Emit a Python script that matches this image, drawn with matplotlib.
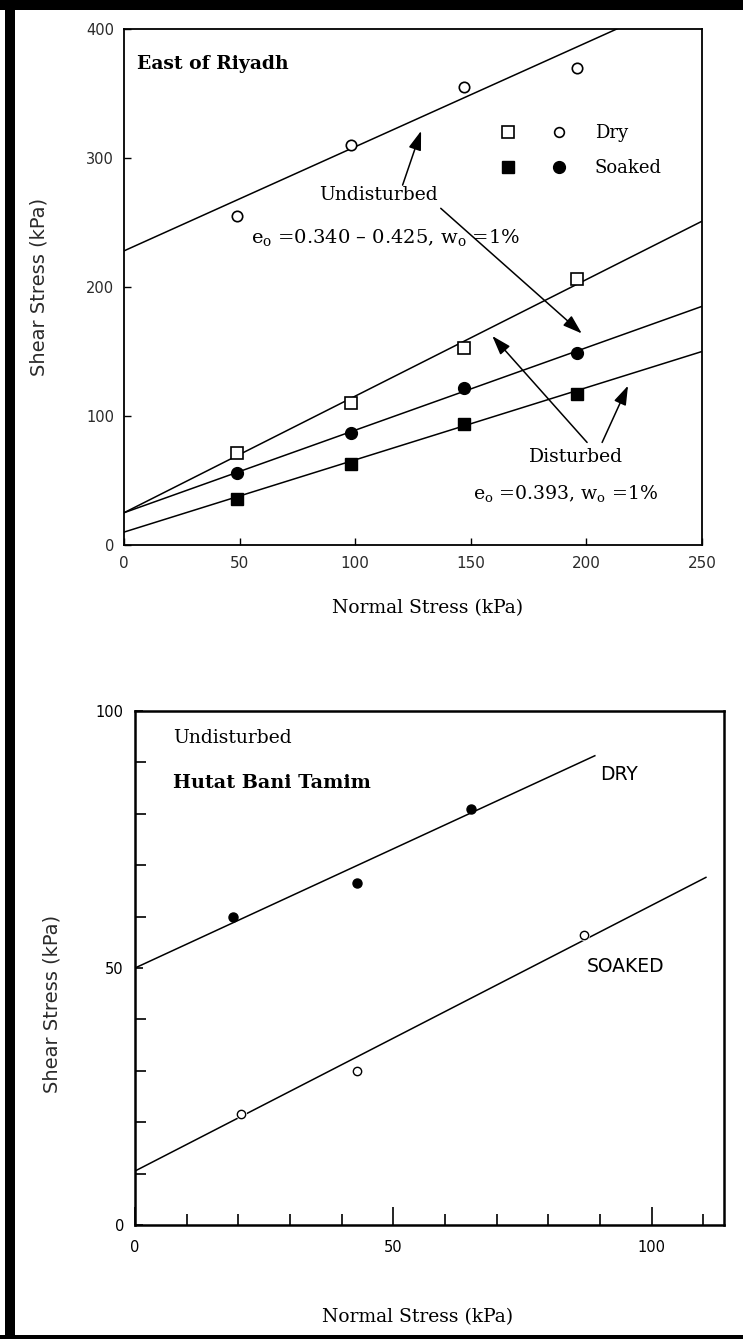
import matplotlib
matplotlib.use("Agg")
import matplotlib.pyplot as plt
from matplotlib.patches import Rectangle
from matplotlib.lines import Line2D
from matplotlib.legend_handler import HandlerTuple
import numpy as np

# ---------------- Data: East of Riyadh ----------------
riyadh_normal = [49, 98, 147, 196]
riyadh_undist_dry = [255, 310, 355, 370]
riyadh_undist_soaked = [56, 87, 122, 149]
riyadh_dist_dry = [71, 110, 153, 206]
riyadh_dist_soaked = [36, 63, 94, 117]
# failure envelopes: undisturbed dry, undisturbed soaked, disturbed dry, disturbed soaked
riyadh_fit_intercepts = [228, 25, 25, 10]
riyadh_fit_slopes = [0.807, 0.64, 0.904, 0.56]
riyadh_xticks = [0, 50, 100, 150, 200, 250]
riyadh_yticks = [0, 100, 200, 300, 400]

# ---------------- Data: Hutat Bani Tamim ----------------
hutat_dry_normal = [19, 43, 65]
hutat_dry_shear = [60, 66.5, 81]
hutat_soaked_normal = [20.5, 43, 87]
hutat_soaked_shear = [21.5, 30, 56.5]
hutat_fit_intercepts = [50, 10.5]
hutat_fit_slopes = [0.464, 0.517]
hutat_fit_xmax = [89, 110.5]
hutat_xticks = [0, 50, 100]
hutat_yticks = [0, 50, 100]

SERIF = "DejaVu Serif"
SANS = "DejaVu Sans"
plt.rcParams["mathtext.fontset"] = "dejavuserif"
plt.rcParams["font.family"] = SERIF

W, H = 743, 1339
fig = plt.figure(figsize=(W / 100, H / 100), dpi=100)
fig.patch.set_facecolor("white")

# outer black frame (top, left, bottom bands)
fig.patches.append(Rectangle((0, 1 - 10 / H), 1, 10 / H, transform=fig.transFigure,
                             facecolor="black", edgecolor="none", zorder=10))
fig.patches.append(Rectangle((5 / W, 0), 10 / W, 1, transform=fig.transFigure,
                             facecolor="black", edgecolor="none", zorder=10))
fig.patches.append(Rectangle((0, 0), 1, 4 / H, transform=fig.transFigure,
                             facecolor="black", edgecolor="none", zorder=10))

def px_axes(left, top, right, bottom):
    return fig.add_axes([left / W, 1 - bottom / H, (right - left) / W, (bottom - top) / H])

lw_line = 1.1

# ======================= TOP PANEL =======================
ax1 = px_axes(124, 29, 702, 545)
ax1.set_xlim(0, 250)
ax1.set_ylim(0, 400)
xx = np.array([0, 250])
for b, m in zip(riyadh_fit_intercepts, riyadh_fit_slopes):
    ax1.plot(xx, b + m * xx, color="black", lw=lw_line, zorder=2)

ax1.plot(riyadh_normal, riyadh_undist_dry, "o", ms=7.5, mfc="white", mec="black", mew=1.2, zorder=3)
ax1.plot(riyadh_normal, riyadh_undist_soaked, "o", ms=8.5, mfc="black", mec="black", zorder=3)
ax1.plot(riyadh_normal, riyadh_dist_dry, "s", ms=8.5, mfc="white", mec="black", mew=1.2, zorder=3)
ax1.plot(riyadh_normal, riyadh_dist_soaked, "s", ms=8.5, mfc="black", mec="black", zorder=3)

ax1.set_xticks(riyadh_xticks)
ax1.set_yticks(riyadh_yticks)
ax1.tick_params(direction="in", length=5, width=1, top=False, right=False)
ax1.tick_params(axis="x", pad=8, labelsize=11)
ax1.tick_params(axis="y", pad=7, labelsize=10.5)
for lab in ax1.get_xticklabels() + ax1.get_yticklabels():
    lab.set_family(SANS)
    lab.set_color("#2a2a2a")
for s in ax1.spines.values():
    s.set_linewidth(1.3)

ax1.set_xlabel("Normal Stress (kPa)", fontsize=13.5, family=SERIF)
ax1.xaxis.set_label_coords(0.526, -0.122)
ax1.xaxis.label.set_verticalalignment("center")
ax1.set_ylabel("Shear Stress (kPa)", fontsize=14, family=SANS, color="#2a2a2a")
ax1.yaxis.set_label_coords(-0.147, 0.5)
ax1.yaxis.label.set_verticalalignment("center")

ax1.text(5.8, 373, "East of Riyadh", fontsize=13.5, fontweight="bold", family=SERIF,
         va="center", ha="left")
ax1.text(110, 271, "Undisturbed", fontsize=13.5, family=SERIF, va="center", ha="center")
ax1.text(113.3, 238, "e$_\\mathrm{o}$ =0.340 – 0.425, w$_\\mathrm{o}$ =1%", fontsize=14,
         family=SERIF, va="center", ha="center")
ax1.text(195.5, 68, "Disturbed", fontsize=13.5, family=SERIF, va="center", ha="center")
ax1.text(191, 40, "e$_\\mathrm{o}$ =0.393, w$_\\mathrm{o}$ =1%", fontsize=13.6,
         family=SERIF, va="center", ha="center")

arrow_kw = dict(arrowstyle="-|>,head_length=0.9,head_width=0.3", color="black", lw=1.1,
                shrinkA=0, shrinkB=0, mutation_scale=13)
for start, end in [((120.5, 279), (128.5, 321)), ((137, 261), (198, 164)),
                   ((200.3, 79.5), (159.3, 162)), ((206.8, 79.5), (218, 123.5))]:
    ax1.annotate("", xy=end, xytext=start, arrowprops=arrow_kw)

h_open_sq = Line2D([], [], marker="s", ls="none", ms=8.5, mfc="white", mec="black", mew=1.2)
h_open_c = Line2D([], [], marker="o", ls="none", ms=7, mfc="white", mec="black", mew=1.2)
h_fill_sq = Line2D([], [], marker="s", ls="none", ms=8.5, mfc="black", mec="black")
h_fill_c = Line2D([], [], marker="o", ls="none", ms=8.5, mfc="black", mec="black")
leg = ax1.legend([(h_open_sq, h_open_c), (h_fill_sq, h_fill_c)], ["Dry", "Soaked"],
                 handler_map={tuple: HandlerTuple(ndivide=None, pad=0)},
                 loc="upper left", bbox_to_anchor=(0.620, 0.816), frameon=False,
                 handlelength=5.65, handletextpad=0.58, labelspacing=0.95,
                 borderpad=0, borderaxespad=0,
                 prop={"family": SERIF, "size": 13})

# ======================= BOTTOM PANEL =======================
ax2 = px_axes(135, 711, 724, 1225)
ax2.set_xlim(0, 114)
ax2.set_ylim(0, 100)
for b, m, xm in zip(hutat_fit_intercepts, hutat_fit_slopes, hutat_fit_xmax):
    x2 = np.array([0, xm])
    ax2.plot(x2, b + m * x2, color="black", lw=lw_line, zorder=2)
ax2.plot(hutat_dry_normal, hutat_dry_shear, "o", ms=6.5, mfc="black", mec="black", zorder=3)
ax2.plot(hutat_soaked_normal, hutat_soaked_shear, "o", ms=8, mfc="white", mec="white",
         mew=0, zorder=3)
ax2.plot(hutat_soaked_normal, hutat_soaked_shear, "o", ms=6, mfc="white", mec="black",
         mew=1.0, zorder=4)

ax2.set_xticks(hutat_xticks)
ax2.set_yticks(hutat_yticks)
ax2.set_xticks(np.arange(10, 114, 10), minor=True)
ax2.set_yticks(np.arange(10, 100, 10), minor=True)
ax2.tick_params(which="both", direction="in", top=False, right=False, width=1.2)
ax2.tick_params(axis="x", which="major", length=13, pad=11, labelsize=10.5)
ax2.tick_params(axis="x", which="minor", length=8)
ax2.tick_params(axis="y", which="major", length=6, pad=8, labelsize=10.5)
ax2.tick_params(axis="y", which="minor", length=8)
for lab in ax2.get_xticklabels() + ax2.get_yticklabels():
    lab.set_family(SANS)
for s in ax2.spines.values():
    s.set_linewidth(1.8)

ax2.set_xlabel("Normal Stress (kPa)", fontsize=13.5, family=SERIF)
ax2.xaxis.set_label_coords(0.479, -0.179)
ax2.xaxis.label.set_verticalalignment("center")
ax2.set_ylabel("Shear Stress (kPa)", fontsize=14, family=SANS, color="#2a2a2a")
ax2.yaxis.set_label_coords(-0.141, 0.43)
ax2.yaxis.label.set_verticalalignment("center")

ax2.text(7.3, 94.7, "Undisturbed", fontsize=13.5, family=SERIF, va="center", ha="left")
ax2.text(7.3, 86, "Hutat Bani Tamim", fontsize=13.8, fontweight="bold", family=SERIF,
         va="center", ha="left")
ax2.text(90, 87.7, "DRY", fontsize=13.5, family=SANS, va="center", ha="left")
ax2.text(87.5, 50.2, "SOAKED", fontsize=13.5, family=SANS, va="center", ha="left")

fig.savefig("out.png", dpi=100, facecolor="white")
